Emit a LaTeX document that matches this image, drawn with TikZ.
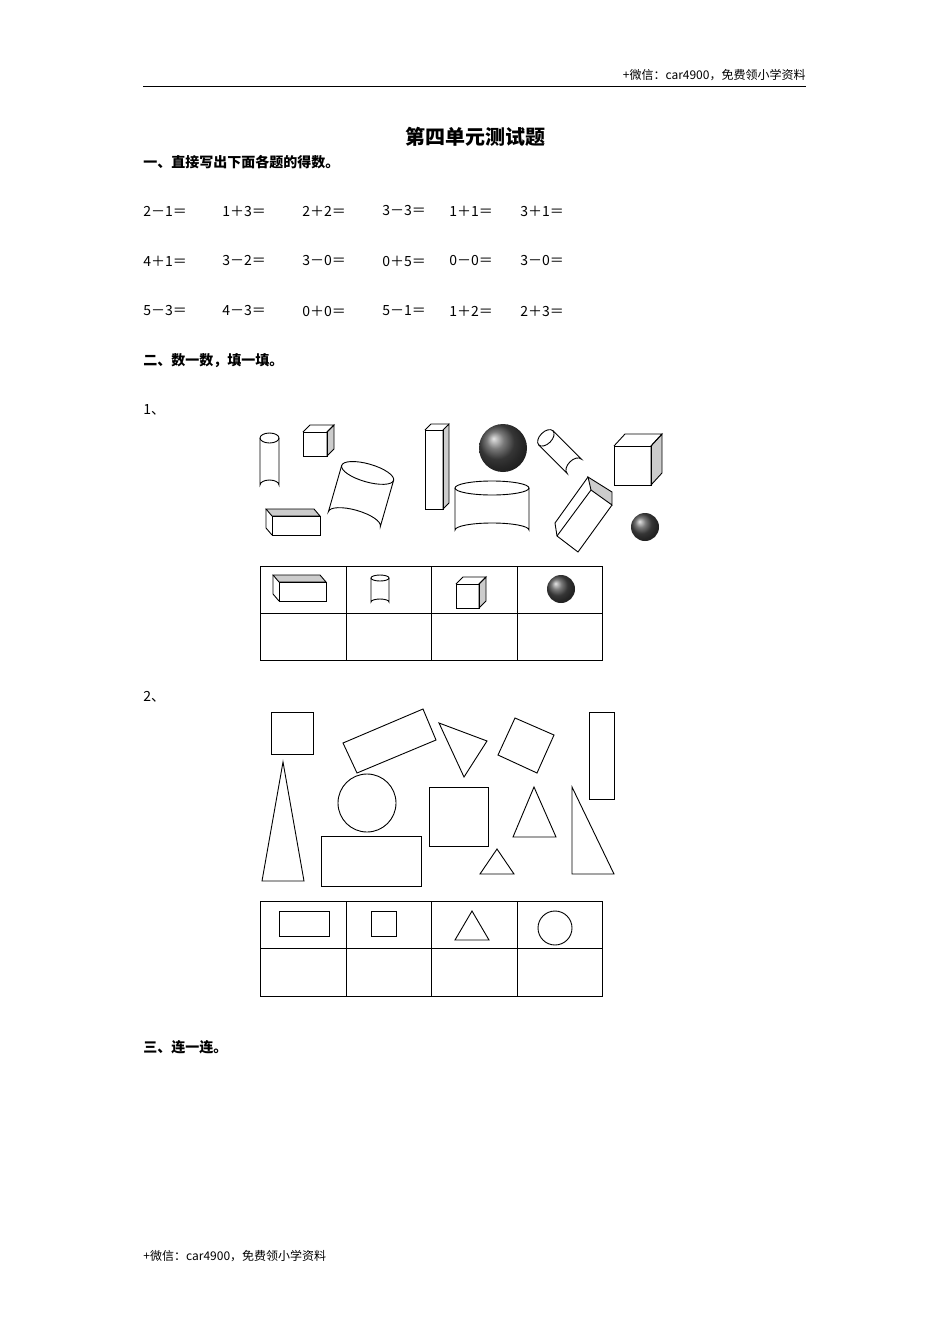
\documentclass[tikz,border=0pt]{standalone}
\usepackage{fontspec}
\setmainfont{Liberation Serif}
\newfontfamily\cjk{Noto Sans CJK SC}
\begin{document}
\begin{tikzpicture}[x=1pt,y=-1pt,line width=0.9pt,
  txt/.style={anchor=west,inner sep=0pt,font=\cjk\fontsize{14}{16}\selectfont},
  hd/.style={txt,font=\cjk\bfseries\fontsize{14}{16}\selectfont},
  shd/.style={fill=gray!40,draw=black},
  ballst/.style={shading=ball,ball color=black!70}]
\useasboundingbox (0,0) rectangle (950,1344);
% header/footer
\node[txt,anchor=east,font=\cjk\fontsize{12}{14}\selectfont] (h) at (806,75) {+微信：car4900，免费领小学资料};
\draw[line width=0.8pt] (143,86) -- (806,86);
\node[txt,font=\cjk\fontsize{12}{14}\selectfont] (f) at (143,1256) {+微信：car4900，免费领小学资料};
\node[inner sep=0pt,font=\cjk\bfseries\fontsize{20}{22}\selectfont] (t) at (475,137) {第四单元测试题};
\node[hd] (s1) at (143,162) {一、直接写出下面各题的得数。};
% equations
\foreach \y/\a/\b/\c/\d/\e/\f in {211/2－1＝/1＋3＝/2＋2＝/3－3＝/1＋1＝/3＋1＝,
  261/4＋1＝/3－2＝/3－0＝/0＋5＝/0－0＝/3－0＝,
  311/5－3＝/4－3＝/0＋0＝/5－1＝/1＋2＝/2＋3＝}{
  \node[txt] at (143,\y) {\a}; \node[txt] at (222,\y) {\b}; \node[txt] at (302,\y) {\c};
  \node[txt] at (382,\y) {\d}; \node[txt] at (449,\y) {\e}; \node[txt] at (520,\y) {\f};}
\node[hd] (s2) at (143,361) {二、数一数，填一填。};
\node[txt] (n1) at (143,410) {1、};
\node[txt] (n2) at (143,697) {2、};
\node[hd] (s3) at (143,1047) {三、连一连。};
% ---- solids
% small cylinder
\draw (260,438) -- (260,485) arc[start angle=180,end angle=360,x radius=9.5,y radius=5] -- (279,438);
\draw (269.5,438) ellipse[x radius=9.5,y radius=5];
% small cube
\draw[shd] (327,432) -- (334,425) -- (334,449) -- (327,456) -- cycle;
\draw (303,432) -- (310,425) -- (334,425) -- (327,432);
\draw (303,432) rectangle (327,456);
% tilted big cylinder
\begin{scope}[shift={(361,496)},rotate=-16]
\draw (-27,-24) -- (-27,24) arc[start angle=180,end angle=360,x radius=27,y radius=9] -- (27,-24);
\draw (0,-24) ellipse[x radius=27,y radius=9];
\end{scope}
% lying box
\draw[shd] (266,509) -- (314,509) -- (320,516) -- (272,516) -- cycle;
\draw (266,509) -- (266,528) -- (272,535);
\draw (272,516) rectangle (320,535);
% tall box
\draw[shd] (443,430) -- (449,424) -- (449,503) -- (443,509) -- cycle;
\draw (425,430) -- (431,424) -- (449,424);
\draw (425,430) rectangle (443,509);
% big sphere
\shade[ballst] (503,448) circle (24);
% wide cylinder
\draw (455,488) -- (455,530) arc[start angle=180,end angle=360,x radius=37,y radius=7] -- (529,488);
\draw (492,488) ellipse[x radius=37,y radius=7];
% tilted small cylinder
\begin{scope}[shift={(560,452)},rotate=45]
\draw (-10,-20) -- (-10,20) arc[start angle=180,end angle=360,x radius=10,y radius=6] -- (10,-20);
\draw (0,-20) ellipse[x radius=10,y radius=6];
\end{scope}
% right cube
\draw[shd] (651,446) -- (662,434) -- (662,473) -- (651,485) -- cycle;
\draw (614,446) -- (625,434) -- (662,434) -- (651,446);
\draw (614,446) rectangle (651,485);
% tilted box
\draw[shd] (588,477) -- (612,492) -- (612,505) -- (591,490) -- cycle;
\draw (555,523) -- (588,477) (612,505) -- (578,552) -- (557,536) -- (555,523);
\draw (591,490) -- (557,536);
% small sphere
\shade[ballst] (645,527) circle (14);
% table 1
\draw (260,566) rectangle (602,660);
\draw (260,613) -- (602,613);
\foreach \x in {346,431,517} \draw (\x,566) -- (\x,660);
\draw[shd] (273,575) -- (320,575) -- (326,582) -- (279,582) -- cycle;
\draw (273,575) -- (273,594) -- (279,601);
\draw (279,582) rectangle (326,601);
\draw (371,578) -- (371,602) arc[start angle=180,end angle=360,x radius=9,y radius=3] -- (389,578);
\draw (380,578) ellipse[x radius=9,y radius=3];
\draw[shd] (479,584) -- (486,577) -- (486,601) -- (479,608) -- cycle;
\draw (456,584) -- (463,577) -- (486,577) -- (479,584);
\draw (456,584) rectangle (479,608);
\shade[ballst] (561,589) circle (14);
% ---- plane shapes
\draw (271,712) rectangle (313,754);
\draw (343,743) -- (423,709) -- (436,740) -- (357,773) -- cycle;
\draw (439,723) -- (487,741) -- (464,777) -- cycle;
\draw (515,718) -- (554,735) -- (537,773) -- (498,755) -- cycle;
\draw (589,712) rectangle (614,799);
\draw (283,762) -- (262,881) -- (304,881) -- cycle;
\draw (367,803) circle (29);
\draw (321,836) rectangle (421,886);
\draw (429,787) rectangle (488,846);
\draw (534,787) -- (513,837) -- (556,837) -- cycle;
\draw (497,849) -- (480,874) -- (514,874) -- cycle;
\draw (572,787) -- (572,874) -- (614,874) -- cycle;
% table 2
\draw (260,901) rectangle (602,996);
\draw (260,948) -- (602,948);
\foreach \x in {346,431,517} \draw (\x,901) -- (\x,996);
\draw (279,911) rectangle (329,936);
\draw (371,911) rectangle (396,936);
\draw (472,911) -- (455,940) -- (489,940) -- cycle;
\draw (555,928) circle (17);
\end{tikzpicture}
\end{document}
